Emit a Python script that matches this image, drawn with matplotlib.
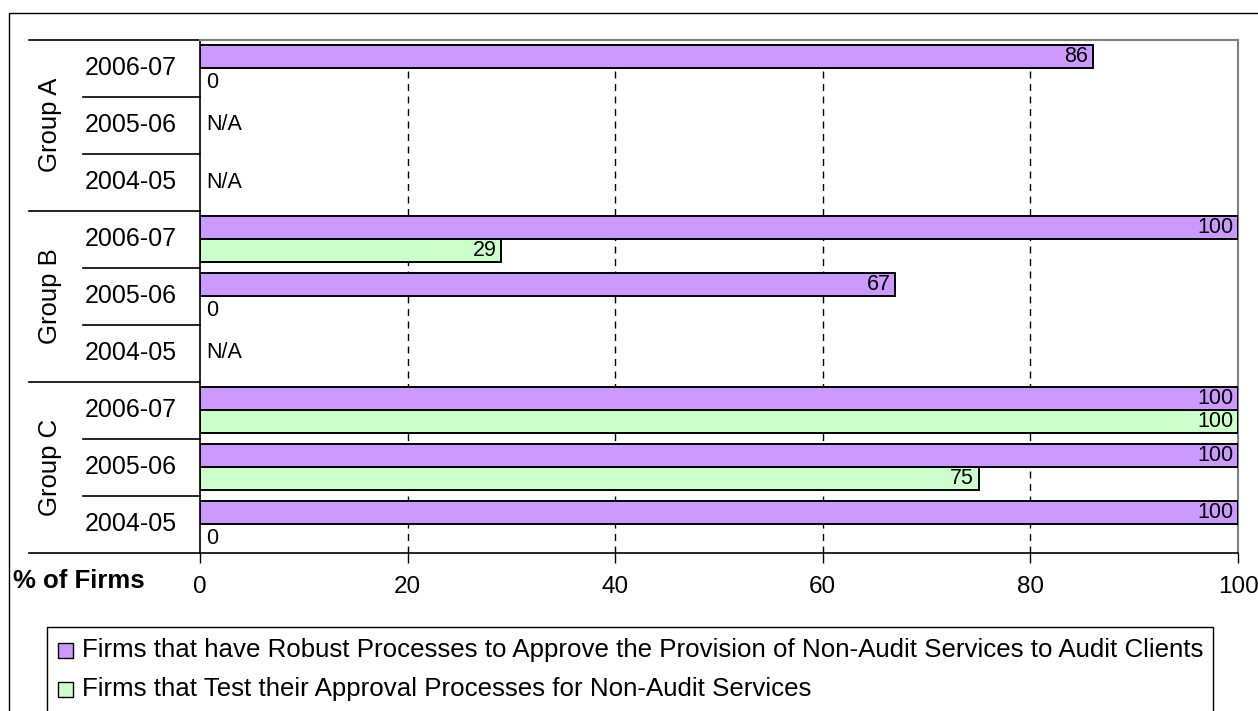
import numpy as np
import matplotlib
matplotlib.use('Agg')
import matplotlib.pyplot as plt
from matplotlib.patches import Rectangle
from matplotlib.lines import Line2D
from matplotlib.transforms import blended_transform_factory

plt.rcParams['font.family'] = ['Liberation Sans', 'DejaVu Sans']

groups = ['Group A', 'Group B', 'Group C']
years = ['2006-07', '2005-06', '2004-05']
# one entry per (group, year) row, top to bottom; None = N/A
robust = [86, None, None, 100, 67, None, 100, 100, 100]
tested = [0, None, None, 29, 0, None, 100, 75, 0]
series_labels = [
    'Firms that have Robust Processes to Approve the Provision of Non-Audit Services to Audit Clients',
    'Firms that Test their Approval Processes for Non-Audit Services',
]
colors = ['#CC99FF', '#CCFFCC']
xticks = [0, 20, 40, 60, 80, 100]

W, H = 1258, 711
def fx(x): return x / W
def fy(y): return 1 - y / H

fig = plt.figure(figsize=(W / 100, H / 100), dpi=100)

# outer chart border (runs off the right/bottom edge)
fig.add_artist(Rectangle((fx(9), fy(760)), fx(1300), (760 - 13) / H,
                         transform=fig.transFigure, fill=False, ec='black', lw=1.0))

ax = fig.add_axes([fx(200), fy(552.5), fx(1238) - fx(200), (552.5 - 39.5) / H])
ax.set_xlim(0, 100)
ax.set_ylim(8.5, -0.5)

VAL_FS = 15.5
rows = np.arange(len(robust))
bh, off = 0.40, 0.20
for r, v in zip(rows, robust):
    if v is None:
        ax.text(0.6, r, 'N/A', ha='left', va='center', fontsize=VAL_FS)
        continue
    if v > 0:
        ax.barh(r - off, v, height=bh, color=colors[0], edgecolor='black', lw=1.4, zorder=3)
        ax.text(v - 0.45, r - off, str(v), ha='right', va='center', fontsize=VAL_FS, zorder=4)
    else:
        ax.text(0.6, r - off, '0', ha='left', va='center', fontsize=VAL_FS, zorder=4)
for r, v in zip(rows, tested):
    if v is None:
        continue
    if v > 0:
        ax.barh(r + off, v, height=bh, color=colors[1], edgecolor='black', lw=1.4, zorder=3)
        ax.text(v - 0.45, r + off, str(v), ha='right', va='center', fontsize=VAL_FS, zorder=4)
    else:
        ax.text(0.6, r + off + 0.05, '0', ha='left', va='center', fontsize=VAL_FS, zorder=4)

for x in xticks[1:-1]:
    ax.axvline(x, color='black', lw=1.0, ls=(0, (5, 4)), zorder=1)

ax.set_xticks(xticks)
ax.set_yticks([])
ax.tick_params(axis='x', direction='out', length=7, width=1, pad=10, labelsize=17.5)
for s in ['top', 'right']:
    ax.spines[s].set_color('#808080')
    ax.spines[s].set_linewidth(1.5)
for s in ['left', 'bottom']:
    ax.spines[s].set_color('black')
    ax.spines[s].set_linewidth(1.2)

# category axis: separators, year labels, rotated group labels
tr = blended_transform_factory(fig.transFigure, ax.transData)
for g in range(len(groups) + 1):
    y = g * 3 - 0.5
    ax.add_line(Line2D([fx(29), fx(200)], [y, y], transform=tr, color='black', lw=1.2, clip_on=False))
for g, name in enumerate(groups):
    for k, yr in enumerate(years):
        r = g * 3 + k
        ax.text(fx(131), r, yr, transform=tr, ha='center', va='center', fontsize=18)
        if k > 0:
            ax.add_line(Line2D([fx(83), fx(200)], [r - 0.5, r - 0.5], transform=tr,
                               color='black', lw=1.2, clip_on=False))
    ax.text(fx(50), g * 3 + 1, name, transform=tr, ha='center', va='center',
            rotation=90, fontsize=18.5)

fig.text(fx(13), fy(581), '% of Firms', ha='left', va='center', fontsize=18.5, fontweight='bold')

# legend box
fig.add_artist(Rectangle((fx(47), fy(760)), fx(1213) - fx(47), (760 - 627) / H,
                         transform=fig.transFigure, fill=False, ec='black', lw=1.0))
for i, (lab, c) in enumerate(zip(series_labels, colors)):
    yc = 650 + i * 39
    fig.add_artist(Rectangle((fx(58), fy(yc + 8)), 15 / W, 15 / H, transform=fig.transFigure,
                             fc=c, ec='black', lw=1.0))
    fig.text(fx(82), fy(yc), lab, ha='left', va='center', fontsize=18.6)

fig.savefig('out.png', dpi=100)
